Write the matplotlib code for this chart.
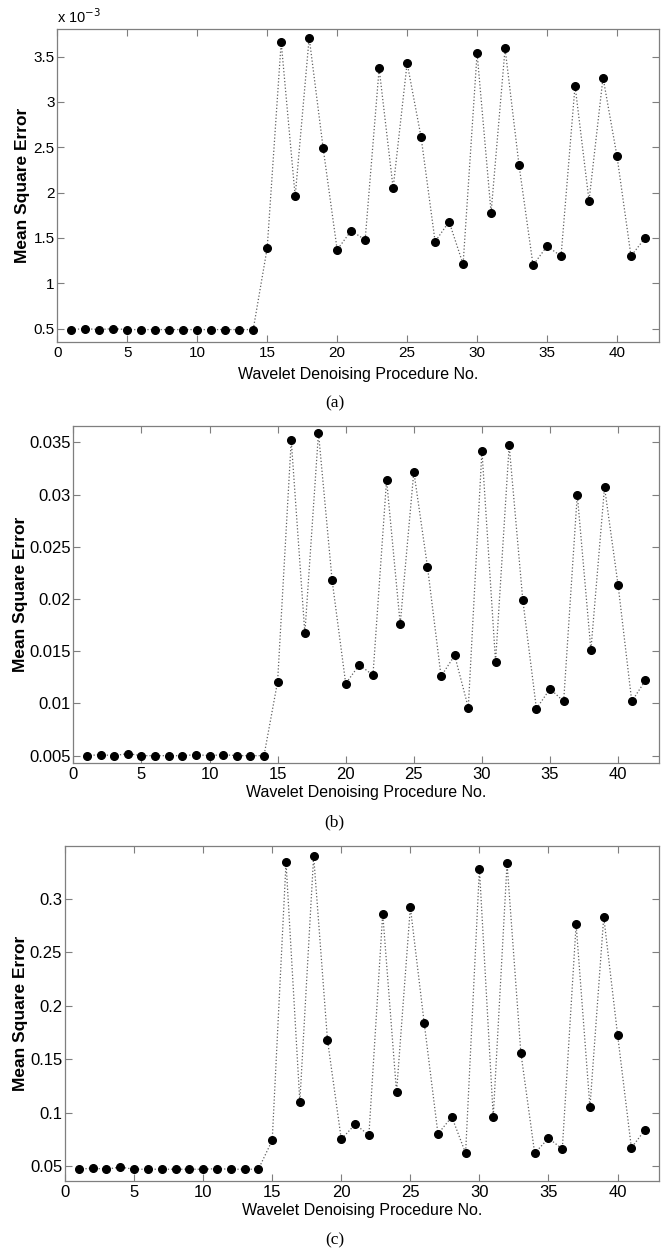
import matplotlib
matplotlib.use("Agg")
import matplotlib.pyplot as plt
from matplotlib.ticker import FuncFormatter

procedure_no = list(range(1, 43))

mse_a = [0.49, 0.50, 0.49, 0.50, 0.49, 0.49, 0.49, 0.49, 0.49, 0.49, 0.49, 0.49, 0.49, 0.49,
         1.39, 3.66, 1.96, 3.71, 2.49, 1.37, 1.58, 1.48, 3.37, 2.05, 3.43, 2.61, 1.46, 1.68,
         1.21, 3.54, 1.78, 3.59, 2.30, 1.20, 1.41, 1.30, 3.18, 1.91, 3.27, 2.40, 1.30, 1.50]
mse_a = [v * 1e-3 for v in mse_a]

mse_b = [0.0050, 0.0051, 0.0050, 0.0052, 0.0050, 0.0050, 0.0050, 0.0050, 0.0051, 0.0050,
         0.0051, 0.0050, 0.0050, 0.0050,
         0.0121, 0.0352, 0.0167, 0.0359, 0.0218, 0.0119, 0.0137, 0.0127, 0.0314, 0.0176,
         0.0322, 0.0231, 0.0126, 0.0146, 0.0096, 0.0342, 0.0140, 0.0347, 0.0199, 0.0095,
         0.0114, 0.0102, 0.0300, 0.0151, 0.0307, 0.0213, 0.0102, 0.0122]

mse_c = [0.047, 0.048, 0.047, 0.049, 0.047, 0.047, 0.047, 0.047, 0.047, 0.047,
         0.0475, 0.047, 0.047, 0.047,
         0.074, 0.334, 0.110, 0.340, 0.168, 0.075, 0.089, 0.079, 0.286, 0.119,
         0.292, 0.184, 0.080, 0.096, 0.062, 0.328, 0.096, 0.333, 0.156, 0.062,
         0.076, 0.066, 0.276, 0.105, 0.283, 0.173, 0.067, 0.084]

xticks = [0, 5, 10, 15, 20, 25, 30, 35, 40]
yticks_a = [0.5e-3, 1e-3, 1.5e-3, 2e-3, 2.5e-3, 3e-3, 3.5e-3]
yticks_b = [0.005, 0.01, 0.015, 0.02, 0.025, 0.03, 0.035]
yticks_c = [0.05, 0.1, 0.15, 0.2, 0.25, 0.3]

xlabel = "Wavelet Denoising Procedure No."
ylabel = "Mean Square Error"
captions = ["(a)", "(b)", "(c)"]

W, H = 669, 1254
fig = plt.figure(figsize=(W / 100, H / 100), dpi=100)

sans = "Liberation Sans"
serif = "Liberation Serif"
spine_col = "#7f7f7f"

def px_rect(left, top, right, bottom):
    return [left / W, 1 - bottom / H, (right - left) / W, (bottom - top) / H]

panels = [
    dict(rect=px_rect(57.3, 29, 659, 342), y=mse_a, yticks=yticks_a, ylim=(0.353e-3, 3.805e-3),
         fmt=lambda v, p: "%g" % round(v * 1e3, 4), ylab_x=23, xlab_y=374, cap_y=403,
         tsize=11),
    dict(rect=px_rect(73.3, 426.3, 659, 763), y=mse_b, yticks=yticks_b, ylim=(0.0043, 0.03653),
         fmt=lambda v, p: "%g" % round(v, 6), ylab_x=21, xlab_y=792, cap_y=822,
         tsize=12),
    dict(rect=px_rect(65, 846.3, 659, 1181), y=mse_c, yticks=yticks_c, ylim=(0.036, 0.349),
         fmt=lambda v, p: "%g" % round(v, 6), ylab_x=21, xlab_y=1211, cap_y=1240,
         tsize=12),
]

for i, p in enumerate(panels):
    ax = fig.add_axes(p["rect"])
    ax.plot(procedure_no, p["y"], linestyle=":", color="#606060", linewidth=0.9,
            marker="o", markersize=5.5, markerfacecolor="black", markeredgecolor="black")
    ax.set_xlim(0, 43)
    ax.set_ylim(*p["ylim"])
    ax.set_xticks(xticks)
    ax.set_yticks(p["yticks"])
    ax.yaxis.set_major_formatter(FuncFormatter(p["fmt"]))
    ax.tick_params(direction="in", length=5, width=0.8, color=spine_col,
                   top=True, right=True, labelsize=p["tsize"], pad=2)
    ax.tick_params(axis="x", pad=3)
    for lab in ax.get_xticklabels() + ax.get_yticklabels():
        lab.set_fontfamily(sans)
    for s in ax.spines.values():
        s.set_color(spine_col)
        s.set_linewidth(0.9)
    rect = p["rect"]
    fig.text(p["ylab_x"] / W, rect[1] + rect[3] / 2, ylabel, rotation=90,
             ha="center", va="center", fontsize=12.5, fontweight="bold", family=sans)
    fig.text(rect[0] + rect[2] / 2, 1 - p["xlab_y"] / H, xlabel, ha="center", va="center",
             fontsize=11.5, family=sans)
    fig.text(0.5, 1 - p["cap_y"] / H, captions[i], ha="center", va="center",
             fontsize=12.5, family=serif)
    if i == 0:
        fig.text(57 / W, 1 - 17 / H, r"x 10$^{-3}$", ha="left", va="center",
                 fontsize=10.5, family=sans)

fig.savefig("out.png", dpi=100)
